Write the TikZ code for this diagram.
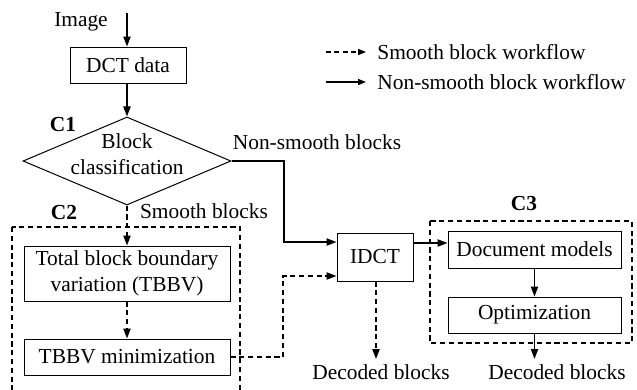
\documentclass[tikz,border=0pt]{standalone}
\usepackage{fontspec}
\setmainfont{Liberation Serif}
\usetikzlibrary{arrows.meta,shapes.geometric}
\begin{document}
\begin{tikzpicture}[x=0.5pt,y=-0.5pt,
  txt/.style={font=\fontsize{10.7pt}{13pt}\selectfont, inner sep=0pt, align=center},
  lbl/.style={font=\fontsize{10.7pt}{13pt}\selectfont\bfseries, inner sep=0pt},
  box/.style={draw, line width=0.45pt, inner sep=0pt, align=center, font=\fontsize{10.7pt}{13pt}\selectfont},
  grp/.style={draw, line width=0.55pt, dash pattern=on 2.6pt off 1.8pt},
  arr/.style={line width=0.8pt, -{Triangle[length=5pt,width=3.6pt]}},
  darr/.style={arr, dash pattern=on 2.6pt off 1.8pt},
  larr/.style={line width=0.8pt, -{Triangle[length=4pt,width=3pt]}},
  ldarr/.style={larr, dash pattern=on 2.4pt off 1.8pt}]
\useasboundingbox (0,0) rectangle (637,390);
\clip (0,0) rectangle (637,390);
% groups
\draw[grp] (12,227) rectangle (240,410);
\draw[grp] (430,221) rectangle (632,343);
% nodes
\node[txt] (img) at (81,22) {Image};
\coordinate (imgtop) at (127,13);
\node[box, minimum width=58pt, minimum height=18pt] (dct) at (128,65) {DCT data};
\node[draw, diamond, line width=0.5pt, inner sep=0pt, minimum width=104pt, minimum height=44pt] (cls) at (127,161) {};
\node[txt] (clstext) at (127,154) {Block\\classification};
\node[lbl] (c1) at (63,125) {C1};
\node[lbl] (c2) at (64,213) {C2};
\node[lbl] (c3) at (524,204) {C3};
\node[txt] (nslbl) at (317,142) {Non-smooth blocks};
\node[txt] (slbl) at (204,211) {Smooth blocks};
\node[box, minimum width=103pt, minimum height=27.5pt] (tbbv) at (127,273.5) {Total block boundary\\variation (TBBV)};
\node[box, minimum width=103pt, minimum height=18pt] (tmin) at (127,357) {TBBV minimization};
\node[box, minimum width=38pt, minimum height=24pt] (idct) at (375,257) {IDCT};
\node[box, minimum width=86.5pt, minimum height=18.5pt] (doc) at (534.5,249.5) {Document models};
\node[box, minimum width=86.5pt, minimum height=18pt] (opt) at (534.5,315) {Optimization};
\node[txt] (dec1) at (381,372) {Decoded blocks};
\node[txt] (dec2) at (557,372) {Decoded blocks};
% legend
\coordinate (l1a) at (326,52); \coordinate (l1b) at (366,52);
\coordinate (l2a) at (326,82); \coordinate (l2b) at (366,82);
\node[txt, anchor=west] (leg1) at (377,52) {Smooth block workflow};
\node[txt, anchor=west] (leg2) at (377,82) {Non-smooth block workflow};
\draw[ldarr] (l1a) -- (l1b);
\draw[larr] (l2a) -- (l2b);
% connectors
\draw[arr] (imgtop) -- (imgtop |- dct.north);
\draw[arr] (dct.south -| cls.north) -- (cls.north);
\coordinate (k2) at (284,242);
\draw[arr] (cls.east) -| (k2) -- (idct.west |- k2);
\draw[darr] (cls.south) -- (tbbv.north);
\draw[darr] (tbbv.south) -- (tmin.north);
\coordinate (k3) at (283,276);
\draw[darr] (tmin.east) -| (k3) -- (idct.west |- k3);
\coordinate (k4) at (0,243);
\draw[arr] (idct.east |- k4) -- (doc.west |- k4);
\draw[arr] (doc.south) -- (opt.north);
\coordinate (e1) at (376,359);
\coordinate (e2) at (534.5,359);
\draw[darr] (idct.south -| e1) -- (e1);
\draw[arr] (opt.south) -- (e2);
\end{tikzpicture}
\end{document}
